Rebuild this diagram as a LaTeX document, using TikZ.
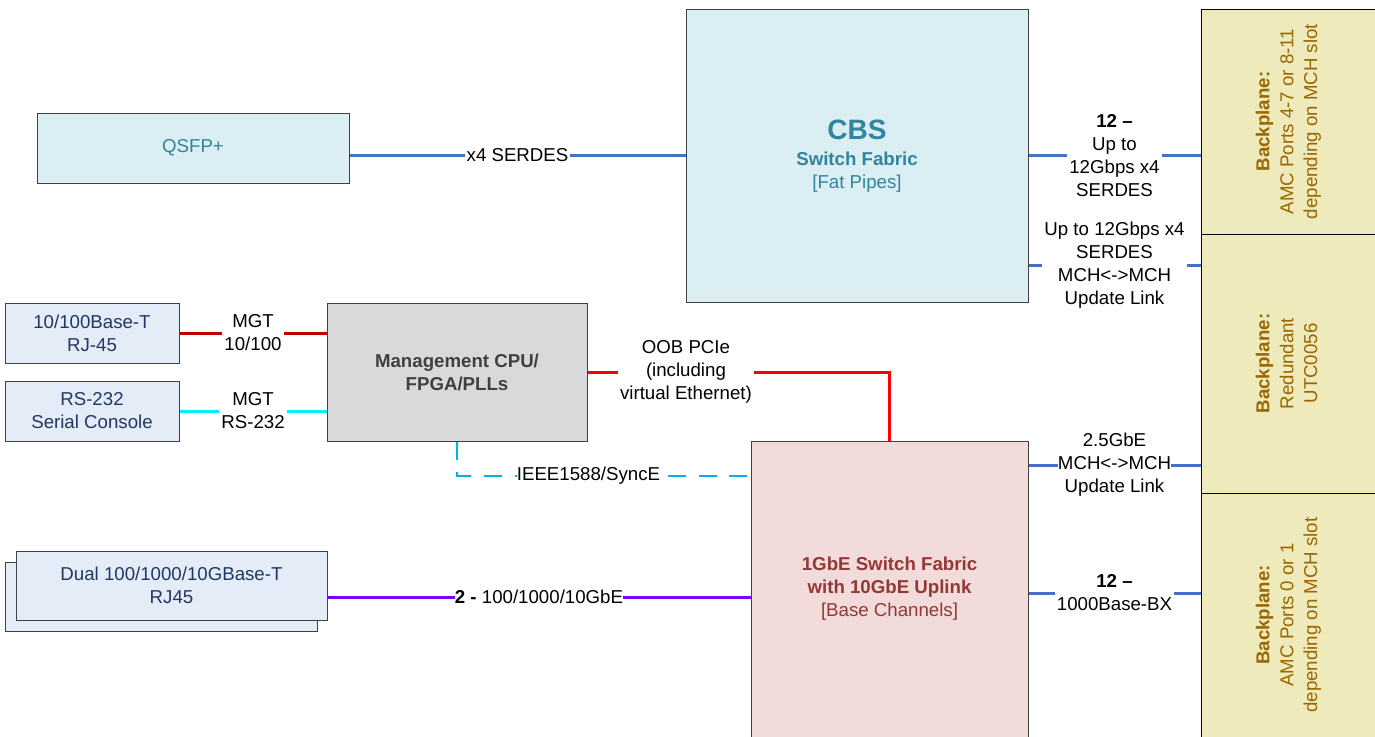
\documentclass[tikz,border=0pt]{standalone}
\usepackage{fontspec}
\setmainfont{Liberation Sans}
\usetikzlibrary{calc}
\newlength\px
\setlength\px{0.75pt}
\definecolor{lnblue}{RGB}{68,114,196}
\definecolor{lndred}{RGB}{192,0,0}
\definecolor{lnred}{RGB}{255,0,0}
\definecolor{lncyan}{RGB}{0,240,250}
\definecolor{lnsky}{RGB}{0,176,240}
\definecolor{lnpurple}{RGB}{120,0,255}
\definecolor{bordergray}{RGB}{64,64,64}
\definecolor{tealfill}{RGB}{218,238,243}
\definecolor{tealtext}{RGB}{49,133,156}
\definecolor{portfill}{RGB}{228,236,247}
\definecolor{porttext}{RGB}{31,56,100}
\definecolor{cpufill}{RGB}{217,217,217}
\definecolor{cputext}{RGB}{64,64,64}
\definecolor{gbefill}{RGB}{242,220,219}
\definecolor{gbetext}{RGB}{149,55,53}
\definecolor{bpfill}{RGB}{238,234,187}
\definecolor{bptext}{RGB}{153,102,0}
\renewcommand\arraystretch{1.04}
\begin{document}
\begin{tikzpicture}[x=0.75pt,y=-0.75pt,
  every node/.style={font=\fontsize{14}{17.25}\selectfont, align=center, inner sep=0pt},
  box/.style={draw=bordergray, line width=0.75pt},
  tealbox/.style={box, fill=tealfill, text=tealtext},
  portbox/.style={box, fill=portfill, text=porttext},
  cpubox/.style={box, fill=cpufill, text=cputext},
  gbebox/.style={box, fill=gbefill, text=gbetext},
  bpbox/.style={draw=black, line width=0.75pt, fill=bpfill, text=bptext},
  lbl/.style={fill=white, inner xsep=1.5pt, inner ysep=1pt, text=black},
  link/.style={line width=2.25pt}
]
\useasboundingbox (0,0) rectangle (1375,736);

\coordinate (y265) at (0,265);
\coordinate (y465) at (0,465);
\coordinate (y476) at (0,476);
\coordinate (y593) at (0,593);
\coordinate (y597) at (0,597);

% boxes
\node[tealbox, minimum width=312\px, minimum height=70\px] (qsfp) at (193,148) {QSFP+};
\node[tealbox, minimum width=342\px, minimum height=293\px] (cbs) at (857,155.5)
  {\rule[-6pt]{0pt}{6pt}\\[-6pt]{\fontsize{21}{24}\selectfont\bfseries CBS}\\[2pt]{\bfseries Switch Fabric}\\{}[Fat Pipes]};

\node[bpbox, minimum width=175\px, minimum height=225\px] (bp1) at (1288.5,121.5)
  {\rotatebox{90}{\begin{tabular}{@{}c@{}}\bfseries Backplane:\\AMC Ports 4-7 or 8-11\\depending on MCH slot\end{tabular}}};
\node[bpbox, minimum width=175\px, minimum height=259\px] (bp2) at (1288.5,363.5)
  {\rotatebox{90}{\begin{tabular}{@{}c@{}}\bfseries Backplane:\\Redundant\\UTC0056\end{tabular}}};
\node[bpbox, minimum width=175\px, minimum height=244\px] (bp3) at (1288.5,615)
  {\rotatebox{90}{\begin{tabular}{@{}c@{}}\bfseries Backplane:\\AMC Ports 0 or 1\\depending on MCH slot\end{tabular}}};

\node[portbox, minimum width=174\px, minimum height=60\px] (eth) at (92,333) {10/100Base-T\\RJ-45};
\node[portbox, minimum width=174\px, minimum height=60\px] (rs) at (92,411) {RS-232\\Serial Console};

\node[cpubox, minimum width=260\px, minimum height=138\px, font=\fontsize{14}{17.25}\selectfont\bfseries] (cpu) at (457,372) {Management CPU/\\FPGA/PLLs};

\node[gbebox, minimum width=277\px, minimum height=296\px] (gbe) at (889.5,589)
  {{\bfseries 1GbE Switch Fabric}\\{\bfseries with 10GbE Uplink}\\{}[Base Channels]};

\node[portbox, minimum width=312\px, minimum height=69\px] (dualback) at (161,597) {};
\node[portbox, minimum width=311\px, minimum height=69\px] (dual) at (171.5,585.5) {Dual 100/1000/10GBase-T\\RJ45};

% connectors
\draw[link, lnblue] (qsfp.east |- cbs.west) -- node[lbl]{x4 SERDES} (cbs.west);
\draw[link, lnblue] (cbs.east) -- node[lbl]{{\bfseries 12 --}\\Up to\\12Gbps x4\\SERDES} (bp1.west |- cbs.east);
\draw[link, lnblue] (cbs.east |- y265) -- node[lbl]{Up to 12Gbps x4\\SERDES\\MCH<->MCH\\Update Link} (bp2.west |- y265);
\draw[link, lnblue] (gbe.east |- y465) -- node[lbl, inner xsep=0pt]{2.5GbE\\MCH<->MCH\\Update Link} (bp2.west |- y465);
\draw[link, lnblue] (gbe.east |- y593) -- node[lbl]{{\bfseries 12 --}\\1000Base-BX} (bp3.west |- y593);

\draw[link, lndred] (eth.east) -- node[lbl]{MGT\\10/100} (cpu.west |- eth.east);
\draw[link, lncyan] (rs.east) -- node[lbl]{MGT\\RS-232} (cpu.west |- rs.east);

\draw[link, lnred] (cpu.east) -| node[lbl, pos=0.163]{OOB PCIe\\(including\\virtual Ethernet)} (gbe.north);
\draw[line width=1.5pt, lnsky, dash pattern=on 13.5pt off 9.5pt] (cpu.south) |- node[lbl, pos=0.724, inner xsep=0pt]{IEEE1588/SyncE} (gbe.west |- y476);

\draw[link, lnpurple] (dual.east |- y597) -- node[lbl, inner xsep=0pt]{{\bfseries 2 -} 100/1000/10GbE} (gbe.west |- y597);
\end{tikzpicture}
\end{document}
